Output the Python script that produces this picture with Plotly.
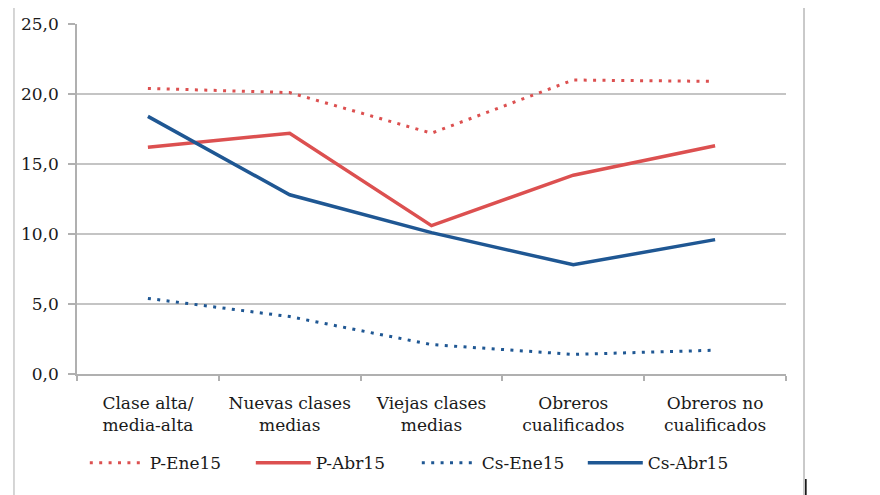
import plotly.graph_objects as go

categories = ["Clase alta/<br>media-alta", "Nuevas clases<br>medias", "Viejas clases<br>medias",
              "Obreros<br>cualificados", "Obreros no<br>cualificados"]
p_ene15 = [20.4, 20.1, 17.2, 21.0, 20.9]
p_abr15 = [16.2, 17.2, 10.6, 14.2, 16.3]
cs_ene15 = [5.4, 4.1, 2.1, 1.4, 1.7]
cs_abr15 = [18.4, 12.8, 10.1, 7.8, 9.6]
y_ticks = [0, 5, 10, 15, 20, 25]

RED = "#DC5050"
BLUE = "#1F5793"
DOT = "3px,6.4px"

fig = go.Figure()
fig.add_trace(go.Scatter(x=categories, y=p_ene15, name="P-Ene15", mode="lines",
                         line=dict(color=RED, width=3, dash=DOT)))
fig.add_trace(go.Scatter(x=categories, y=p_abr15, name="P-Abr15", mode="lines",
                         line=dict(color=RED, width=3.5)))
fig.add_trace(go.Scatter(x=categories, y=cs_ene15, name="Cs-Ene15", mode="lines",
                         line=dict(color=BLUE, width=3, dash=DOT)))
fig.add_trace(go.Scatter(x=categories, y=cs_abr15, name="Cs-Abr15", mode="lines",
                         line=dict(color=BLUE, width=3.5)))

font = "DejaVu Serif"
fig.update_layout(
    width=872, height=487,
    margin=dict(l=69, r=94, t=16, b=121, autoexpand=False),
    paper_bgcolor="white", plot_bgcolor="white",
    separators=",.",
    font=dict(family=font, size=17, color="#1a1a1a"),
    showlegend=True,
    legend=dict(orientation="h", x=0.011, y=-0.255, xanchor="left", yanchor="middle",
                font=dict(family=font, size=17), entrywidth=96, entrywidthmode="pixels",
                itemwidth=55, tracegroupgap=0),
    xaxis=dict(showgrid=False, showline=True, linecolor="#B0B0B0", linewidth=1.5,
               ticks="outside", tickson="boundaries", ticklen=5, tickcolor="#B0B0B0",
               tickwidth=1.5, range=[-0.5, 4.5], ticklabelstandoff=13, automargin=False,
               tickfont=dict(family=font, size=17)),
    yaxis=dict(range=[0, 25], tickvals=y_ticks, tickformat=".1f", showgrid=True,
               gridcolor="#C4C4C4", gridwidth=1.5, showline=True, linecolor="#B0B0B0",
               linewidth=1.5, ticks="outside", ticklen=7, tickcolor="#B0B0B0", tickwidth=1.5,
               zeroline=False, automargin=False, ticklabelstandoff=6,
               tickfont=dict(family=font, size=17)),
    shapes=[
        dict(type="line", xref="paper", yref="paper", x0=-0.0889, x1=-0.0889, y0=-0.36, y1=1.06,
             line=dict(color="#C8C8C8", width=1.5)),
        dict(type="line", xref="paper", yref="paper", x0=1.0254, x1=1.0254, y0=-0.36, y1=1.06,
             line=dict(color="#B8B8B8", width=1.5)),
        dict(type="line", xref="paper", yref="paper", x0=1.028, x1=1.028, y0=-0.36, y1=-0.30,
             line=dict(color="black", width=1.5)),
    ],
)
fig.write_html("out.html")
